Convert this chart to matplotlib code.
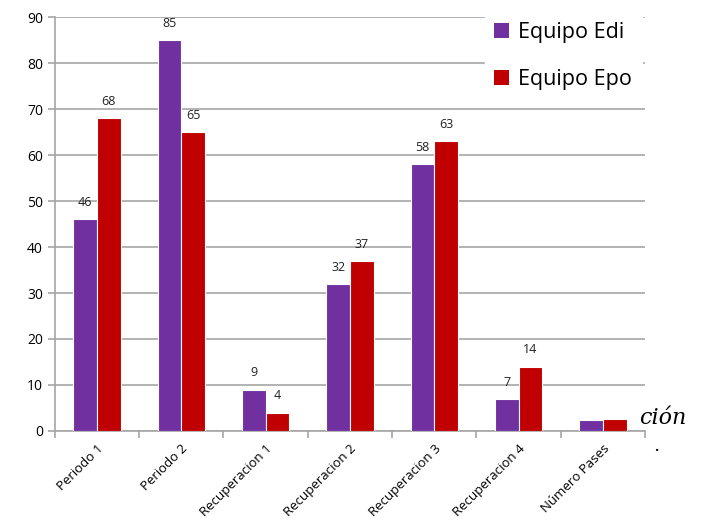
import numpy as np
import matplotlib
matplotlib.use("Agg")
import matplotlib.pyplot as plt
from matplotlib.patches import Patch

categorias = ['Periodo 1', 'Periodo 2', 'Recuperacion 1', 'Recuperacion 2',
              'Recuperacion 3', 'Recuperacion 4', 'Número Pases']
equipo_edi = [46, 85, 9, 32, 58, 7, 2.3]
equipo_epo = [68, 65, 4, 37, 63, 14, 2.7]
etiquetas_edi = ['46', '85', '9', '32', '58', '7', '']
etiquetas_epo = ['68', '65', '4', '37', '63', '14', '']

morado = '#7030A0'
rojo = '#C00000'
gris = '#A6A6A6'

plt.rcParams['font.family'] = ['Open Sans', 'DejaVu Sans']

fig = plt.figure(figsize=(7.02, 5.24), dpi=100)
ax = fig.add_axes([0.078, 0.1775, 0.841, 0.79])

x = np.arange(len(categorias))
ancho = 0.28
b1 = ax.bar(x - ancho / 2, equipo_edi, ancho, color=morado, edgecolor='white', linewidth=0.8, zorder=3)
b2 = ax.bar(x + ancho / 2, equipo_epo, ancho, color=rojo, edgecolor='white', linewidth=0.8, zorder=3)

for barras, textos in [(b1, etiquetas_edi), (b2, etiquetas_epo)]:
    for barra, txt in zip(barras, textos):
        if txt:
            ax.text(barra.get_x() + barra.get_width() / 2, barra.get_height() + 2.2, txt,
                    ha='center', va='bottom', fontsize=9, color='#222222')

ax.set_xlim(-0.5, len(categorias) - 0.5)
ax.set_ylim(0, 90)
ax.set_yticks(range(0, 91, 10))
ax.yaxis.grid(True, color=gris, linewidth=1.2, zorder=0)
ax.set_axisbelow(True)

ax.set_xticks(x)
ax.set_xticklabels(categorias, rotation=45, ha='right', rotation_mode='anchor', fontsize=9.5)
ax.tick_params(axis='x', length=0, pad=8)
ax.set_xticks(np.arange(-0.5, len(categorias), 1), minor=True)
ax.tick_params(axis='x', which='minor', length=5, color=gris, width=1.2)
ax.tick_params(axis='y', length=5, color=gris, width=1.2, labelsize=10)

for lado in ['top', 'right']:
    ax.spines[lado].set_visible(False)
ax.spines['left'].set_color(gris)
ax.spines['bottom'].set_color(gris)
ax.spines['left'].set_linewidth(1.2)
ax.spines['bottom'].set_linewidth(1.2)

manijas = [Patch(facecolor=morado), Patch(facecolor=rojo)]
leg = fig.legend(manijas, ['Equipo Edi', 'Equipo Epo'], loc='upper right',
                 bbox_to_anchor=(0.914, 0.976), frameon=True, fontsize=15.5,
                 handlelength=0.7, handleheight=0.7, handletextpad=0.4,
                 labelspacing=1.2, borderpad=0.45, borderaxespad=0)
leg.get_frame().set_edgecolor('white')
leg.get_frame().set_facecolor('white')
leg.get_frame().set_alpha(1)

fig.text(0.978, 0.19, 'ción', fontsize=16, style='italic', family='DejaVu Serif', ha='right')
fig.text(0.93, 0.14, '.', fontsize=14, family='DejaVu Serif', ha='left')

fig.savefig('out.png', dpi=100)
